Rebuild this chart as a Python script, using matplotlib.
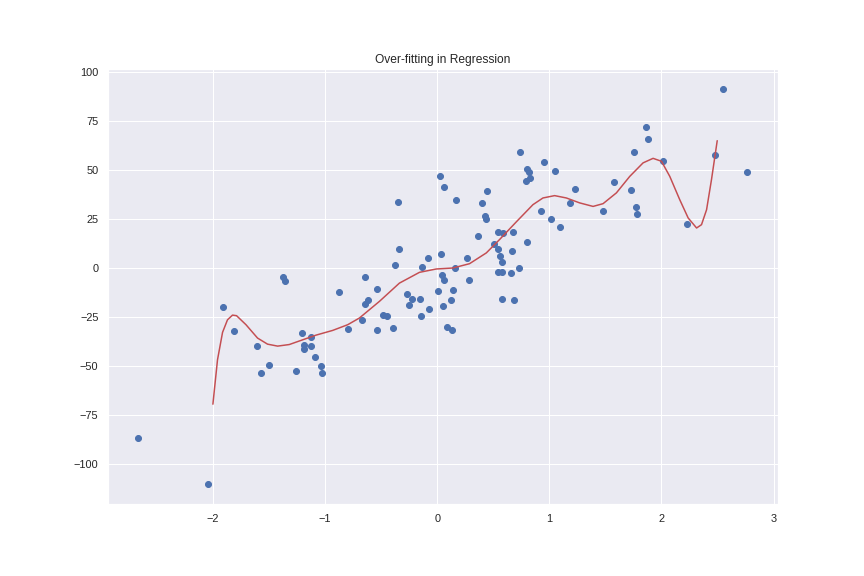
import matplotlib
matplotlib.use("Agg")
import matplotlib.pyplot as plt
import seaborn as sns

# scattered samples (x, y)
x_pts = [-2.664, -2.048, -1.914, -1.816, -1.611, -1.575, -1.504, -1.375, -1.354, -1.262,
         -1.209, -1.191, -1.191, -1.122, -1.128, -1.087, -1.039, -1.030, -0.879, -0.798,
         -0.673, -0.646, -0.643, -0.620, -0.539, -0.539, -0.486, -0.450, -0.396, -0.379,
         -0.352, -0.343, -0.271, -0.254, -0.227, -0.155, -0.146, -0.137, -0.084, -0.075,
         0.005, 0.023, 0.032, 0.041, 0.050, 0.059, 0.059, 0.086, 0.121, 0.130,
         0.139, 0.157, 0.166, 0.264, 0.282, 0.363, 0.398, 0.425, 0.434, 0.443,
         0.503, 0.541, 0.541, 0.541, 0.559, 0.577, 0.577, 0.580, 0.586, 0.657,
         0.666, 0.675, 0.684, 0.729, 0.738, 0.791, 0.800, 0.800, 0.818, 0.827,
         0.925, 0.952, 1.014, 1.050, 1.095, 1.184, 1.229, 1.479, 1.577, 1.729,
         1.755, 1.773, 1.782, 1.863, 1.880, 2.014, 2.229, 2.479, 2.550, 2.764]
y_pts = [-86.7, -110.2, -19.9, -32.1, -39.8, -53.6, -49.5, -4.6, -6.6, -52.6,
         -33.2, -39.3, -41.3, -35.2, -39.8, -45.4, -50.0, -53.6, -12.2, -31.1,
         -26.5, -4.6, -18.4, -16.3, -10.7, -31.6, -23.8, -24.5, -30.6, 1.5,
         33.7, 9.7, -13.3, -18.9, -15.8, -15.8, -24.5, 0.5, 5.1, -20.9,
         -11.7, 46.9, 7.1, -3.6, -19.4, -6.1, 41.3, -30.1, -16.3, -31.6,
         -11.2, 0.0, 34.7, 5.1, -6.1, 16.3, 33.2, 26.5, 25.0, 39.3,
         12.2, 18.4, 9.7, -2.0, 6.1, 3.1, -15.8, -2.0, 17.9, -2.6,
         8.7, 18.4, -16.3, 0.0, 59.2, 44.4, 50.5, 13.3, 49.0, 45.9,
         29.1, 54.1, 25.0, 49.5, 20.9, 33.2, 40.3, 29.1, 43.9, 39.8,
         59.2, 31.1, 27.6, 71.9, 65.8, 54.6, 22.4, 57.7, 91.3, 49.0]

# fitted curve
fit_x = [-2.0, -1.959, -1.914, -1.87, -1.825, -1.789, -1.705, -1.602, -1.513, -1.423,
         -1.319, -1.2, -1.08, -0.932, -0.798, -0.694, -0.515, -0.337, -0.158, -0.009,
         0.139, 0.288, 0.438, 0.556, 0.705, 0.854, 0.943, 1.047, 1.152, 1.27,
         1.39, 1.479, 1.598, 1.717, 1.836, 1.925, 2.0, 2.074, 2.163, 2.238,
         2.313, 2.357, 2.402, 2.446, 2.497]
fit_y = [-69.4, -46.8, -32.8, -26.4, -24.0, -24.3, -28.9, -35.7, -38.8, -39.8,
         -39.0, -36.6, -34.2, -31.8, -28.9, -25.5, -17.0, -7.7, -2.2, -0.5,
         0.0, 2.2, 7.7, 14.5, 23.5, 32.3, 35.7, 36.9, 35.7, 33.2,
         31.4, 32.8, 38.3, 46.7, 53.6, 55.9, 54.4, 46.7, 34.8, 25.5,
         20.4, 22.1, 29.7, 45.1, 64.9]

sns.set(color_codes=True)
plt.rcParams["font.family"] = ["Liberation Sans", "DejaVu Sans"]

fig, ax = plt.subplots(figsize=(12, 8), dpi=72)
fig.subplots_adjust(left=0.125, right=0.9, top=0.88, bottom=0.125)
ax.scatter(x_pts, y_pts, color="b")
ax.plot(fit_x, fit_y, color="r")
ax.set_title("Over-fitting in Regression")
fig.savefig("out.png", dpi=72)
